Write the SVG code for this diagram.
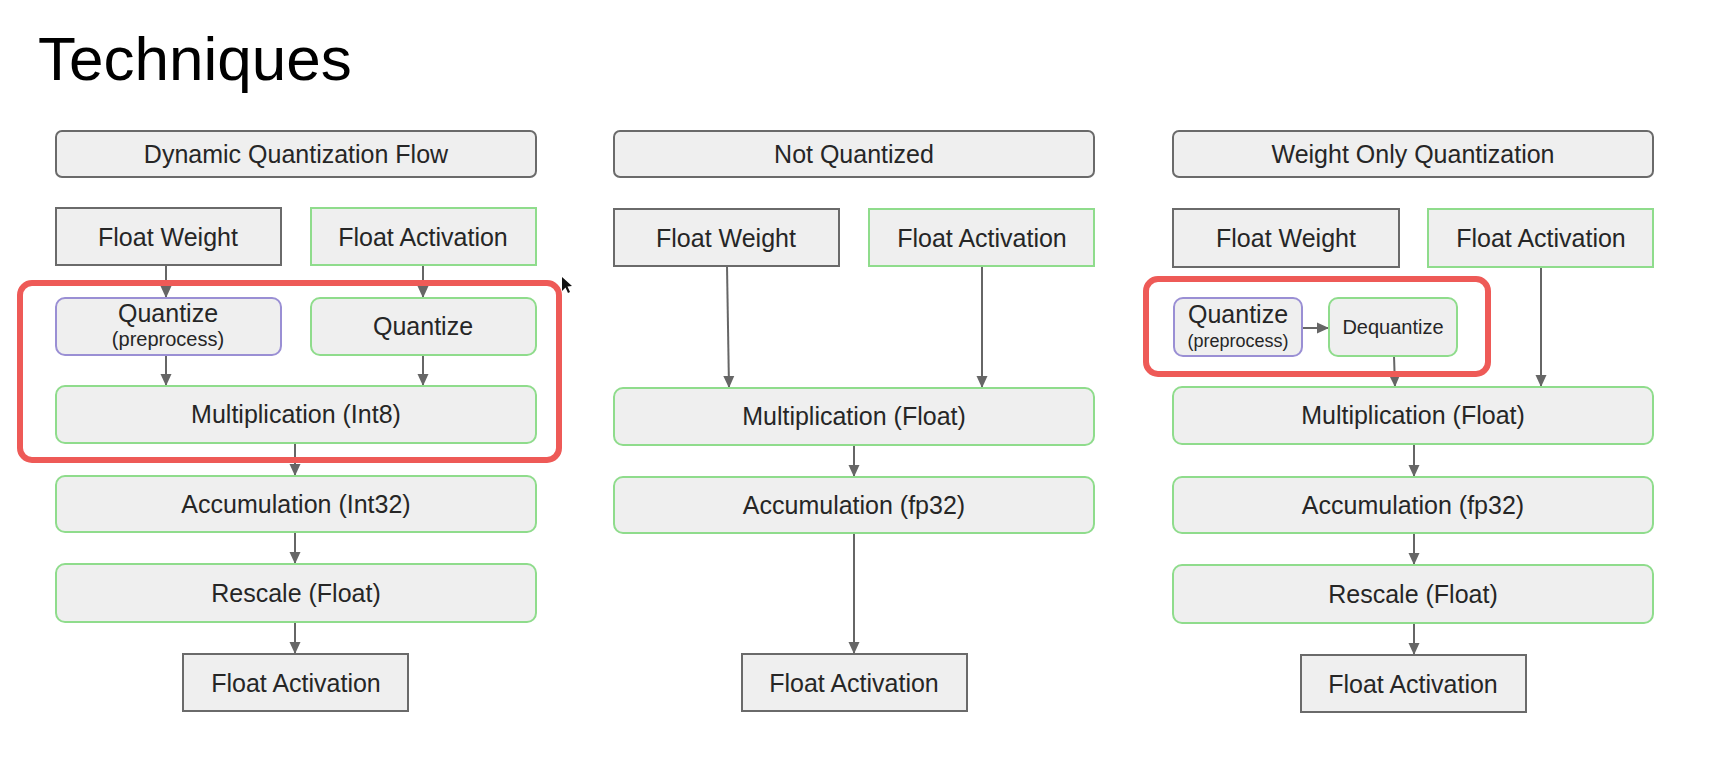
<svg xmlns="http://www.w3.org/2000/svg" width="1710" height="760" viewBox="0 0 1710 760">
<defs>
<style>
.t{font-family:"Liberation Sans",Arial,sans-serif;font-size:25px;fill:#262626;text-anchor:middle}
.s{font-size:20px}
.xs{font-size:18px}
.title{font-family:"Liberation Sans",Arial,sans-serif;font-size:62px;fill:#000}
.hdr{fill:#efefef;stroke:#6a6a6a;stroke-width:2}
.src{fill:#efefef;stroke:#6a6a6a;stroke-width:2}
.srcg{fill:#efefef;stroke:#8fdc8c;stroke-width:2}
.grn{fill:#efefef;stroke:#8fdc8c;stroke-width:2}
.pur{fill:#efefef;stroke:#9a8fd4;stroke-width:2}
.red{fill:none;stroke:#ee5a57;stroke-width:6}
.c{stroke:#666;stroke-width:2;fill:none;marker-end:url(#ah)}
</style>
<marker id="ah" markerUnits="userSpaceOnUse" markerWidth="12" markerHeight="12" refX="12" refY="6" orient="auto">
<path d="M0,0.5 L12,6 L0,11.5 z" fill="#666"/>
</marker>
</defs>
<rect width="1710" height="760" fill="#fff"/>
<text class="title" x="38" y="80">Techniques</text>

<g id="connectors">
<line class="c" x1="166" y1="265" x2="166" y2="298"/>
<line class="c" x1="423" y1="265" x2="423" y2="298"/>
<line class="c" x1="166" y1="355" x2="166" y2="386"/>
<line class="c" x1="423" y1="355" x2="423" y2="386"/>
<line class="c" x1="295" y1="443" x2="295" y2="476"/>
<line class="c" x1="295" y1="532" x2="295" y2="564"/>
<line class="c" x1="295" y1="622" x2="295" y2="654"/>

<line class="c" x1="727" y1="266" x2="729" y2="388"/>
<line class="c" x1="982" y1="266" x2="982" y2="388"/>
<line class="c" x1="854" y1="445" x2="854" y2="477"/>
<line class="c" x1="854" y1="533" x2="854" y2="654"/>

<line class="c" x1="1302" y1="328" x2="1329" y2="328"/>
<line class="c" x1="1394" y1="356" x2="1395" y2="387"/>
<line class="c" x1="1541" y1="267" x2="1541" y2="387"/>
<line class="c" x1="1414" y1="444" x2="1414" y2="477"/>
<line class="c" x1="1414" y1="533" x2="1414" y2="565"/>
<line class="c" x1="1414" y1="623" x2="1414" y2="655"/>
</g>

<!-- Left column -->
<g id="hdr-dynamic"><rect class="hdr" x="56" y="131" width="480" height="46" rx="6"/><text class="t" x="296" y="163">Dynamic Quantization Flow</text></g>
<g id="l-fw"><rect class="src" x="56" y="208" width="225" height="57"/><text class="t" x="168" y="246">Float Weight</text></g>
<g id="l-fa"><rect class="srcg" x="311" y="208" width="225" height="57"/><text class="t" x="423" y="246">Float Activation</text></g>
<g id="l-qpre"><rect class="pur" x="56" y="298" width="225" height="57" rx="9"/><text class="t" x="168" y="322">Quantize</text><text class="t s" x="168" y="346">(preprocess)</text></g>
<g id="l-q"><rect class="grn" x="311" y="298" width="225" height="57" rx="9"/><text class="t" x="423" y="335">Quantize</text></g>
<g id="l-mult"><rect class="grn" x="56" y="386" width="480" height="57" rx="9"/><text class="t" x="296" y="423">Multiplication (Int8)</text></g>
<g id="l-acc"><rect class="grn" x="56" y="476" width="480" height="56" rx="9"/><text class="t" x="296" y="513">Accumulation (Int32)</text></g>
<g id="l-resc"><rect class="grn" x="56" y="564" width="480" height="58" rx="9"/><text class="t" x="296" y="602">Rescale (Float)</text></g>
<g id="l-out"><rect class="src" x="183" y="654" width="225" height="57"/><text class="t" x="296" y="692">Float Activation</text></g>

<!-- Middle column -->
<g id="hdr-notq"><rect class="hdr" x="614" y="131" width="480" height="46" rx="6"/><text class="t" x="854" y="163">Not Quantized</text></g>
<g id="m-fw"><rect class="src" x="614" y="209" width="225" height="57"/><text class="t" x="726" y="247">Float Weight</text></g>
<g id="m-fa"><rect class="srcg" x="869" y="209" width="225" height="57"/><text class="t" x="982" y="247">Float Activation</text></g>
<g id="m-mult"><rect class="grn" x="614" y="388" width="480" height="57" rx="9"/><text class="t" x="854" y="425">Multiplication (Float)</text></g>
<g id="m-acc"><rect class="grn" x="614" y="477" width="480" height="56" rx="9"/><text class="t" x="854" y="514">Accumulation (fp32)</text></g>
<g id="m-out"><rect class="src" x="742" y="654" width="225" height="57"/><text class="t" x="854" y="692">Float Activation</text></g>

<!-- Right column -->
<g id="hdr-wo"><rect class="hdr" x="1173" y="131" width="480" height="46" rx="6"/><text class="t" x="1413" y="163">Weight Only Quantization</text></g>
<g id="r-fw"><rect class="src" x="1173" y="209" width="226" height="58"/><text class="t" x="1286" y="247">Float Weight</text></g>
<g id="r-fa"><rect class="srcg" x="1428" y="209" width="225" height="58"/><text class="t" x="1541" y="247">Float Activation</text></g>
<g id="r-qpre"><rect class="pur" x="1174" y="298" width="128" height="58" rx="9"/><text class="t" x="1238" y="323">Quantize</text><text class="t xs" x="1238" y="347">(preprocess)</text></g>
<g id="r-deq"><rect class="grn" x="1329" y="298" width="128" height="58" rx="9"/><text class="t s" x="1393" y="334">Dequantize</text></g>
<g id="r-mult"><rect class="grn" x="1173" y="387" width="480" height="57" rx="9"/><text class="t" x="1413" y="424">Multiplication (Float)</text></g>
<g id="r-acc"><rect class="grn" x="1173" y="477" width="480" height="56" rx="9"/><text class="t" x="1413" y="514">Accumulation (fp32)</text></g>
<g id="r-resc"><rect class="grn" x="1173" y="565" width="480" height="58" rx="9"/><text class="t" x="1413" y="603">Rescale (Float)</text></g>
<g id="r-out"><rect class="src" x="1301" y="655" width="225" height="57"/><text class="t" x="1413" y="693">Float Activation</text></g>

<!-- Highlight boxes -->
<g id="highlight-left"><rect class="red" x="20" y="283" width="539" height="177" rx="12"/></g>
<g id="highlight-right"><rect class="red" x="1146" y="279" width="342" height="95" rx="12"/></g>

<!-- mouse cursor -->
<path d="M562,277 L562,291 L565.5,287.5 L568,293 L570,292 L567.5,286.5 L572,286 z" fill="#111"/>
</svg>
